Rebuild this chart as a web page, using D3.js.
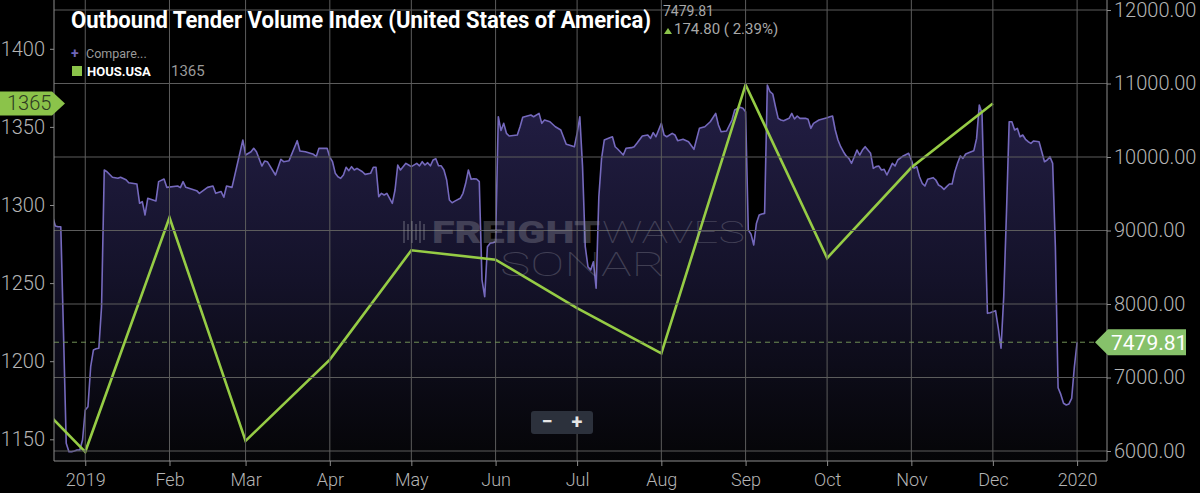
<!DOCTYPE html>
<html>
<head>
  <style>
  body { margin: 0; background: #000; }
  .axis .domain { stroke: #8c8c8c; }
  .axis line { stroke: #8c8c8c; }
  .axis text { fill: #b4b4b4; font-family: Roboto, sans-serif; font-weight: 300; }
  </style>
  <script src="https://d3js.org/d3.v7.min.js"></script>
</head>
<body>
<script>
  // HOUS.USA, monthly (left axis)
  var housMonths = ["2018-12-01", "2019-01-01", "2019-02-01", "2019-03-01", "2019-04-01", "2019-05-01", "2019-06-01",
                    "2019-07-01", "2019-08-01", "2019-09-01", "2019-10-01", "2019-11-01", "2019-12-01"];
  var housValues = [1197, 1142, 1292, 1149, 1201, 1271, 1265, 1234, 1205, 1377, 1266, 1324, 1365];

  // Outbound Tender Volume Index, days since 2019-01-01 (right axis)
  var tenderDay = [-12, -11, -10, -9, -8, -7, -6, -5, -4, -3, -2, -1, 0, 1, 2, 3, 4, 5, 6, 7, 8, 10, 12, 13, 15, 16, 19, 20,
    21, 22, 23, 26, 27, 29, 30, 34, 35, 36, 37, 41, 42, 45, 47, 48, 50, 51, 52, 54, 58, 59, 61, 62, 63, 65, 66, 67, 70,
    72, 73, 75, 78, 79, 81, 84, 85, 86, 89, 90, 91, 92, 93, 94, 95, 96, 97, 98, 99, 100, 102, 103, 105, 106, 107, 108,
    109, 110, 111, 112, 113, 114, 115, 116, 118, 119, 120, 122, 123, 124, 125, 126, 127, 128, 129, 130, 131, 132, 133,
    134, 135, 136, 138, 139, 140, 141, 142, 143, 144, 145, 146, 147, 148, 149, 150, 151, 152, 153, 154, 155, 156, 159,
    160, 161, 164, 165, 167, 168, 169, 171, 173, 175, 177, 178, 180, 181, 182, 183, 184, 185, 186, 187, 188, 189, 190,
    191, 193, 194, 195, 196, 198, 199, 201, 202, 203, 205, 207, 208, 209, 210, 212, 213, 214, 216, 217, 218, 220, 222,
    224, 226, 228, 230, 232, 233, 234, 236, 238, 239, 241, 242, 243, 244, 245, 246, 247, 248, 249, 250, 251, 252, 253,
    254, 255, 256, 257, 259, 260, 261, 262, 263, 265, 266, 267, 268, 270, 273, 274, 275, 276, 277, 278, 279, 280, 281,
    282, 283, 284, 285, 286, 287, 289, 290, 291, 292, 293, 294, 295, 297, 298, 299, 301, 303, 304, 305, 306, 307, 308,
    309, 310, 312, 313, 314, 315, 316, 317, 318, 319, 320, 321, 322, 323, 324, 326, 327, 328, 329, 330, 331, 332, 333,
    334, 335, 336, 337, 338, 339, 340, 341, 342, 343, 344, 345, 346, 347, 348, 349, 351, 352, 353, 354, 355, 356, 357,
    358, 359, 360, 361, 362, 363, 364, 365];
  var tenderValue = [9190, 9060, 9052, 9052, 7600, 6105, 5990, 5990, 6000, 6014, 6014, 6150, 6558, 6603, 7147, 7374, 7390,
    7397, 7963, 9823, 9800, 9724, 9710, 9724, 9690, 9650, 9633, 9370, 9392, 9211, 9438, 9401, 9665, 9700, 9587, 9605,
    9583, 9665, 9587, 9542, 9506, 9587, 9605, 9506, 9530, 9452, 9605, 9587, 10231, 10027, 10072, 10118, 10072, 9877,
    9945, 9936, 9755, 9968, 9936, 9950, 10222, 10081, 10072, 10036, 10004, 10118, 10118, 9997, 9936, 9780, 9732, 9710,
    9755, 9860, 9814, 9869, 9823, 9846, 9800, 9764, 9778, 9860, 9860, 9460, 9506, 9483, 9506, 9438, 9370, 9551, 9891,
    9823, 9914, 9891, 9869, 9914, 9880, 9936, 9891, 9923, 9880, 9959, 9977, 9880, 9880, 9823, 9687, 9415, 9378, 9400,
    9438, 9506, 9642, 9823, 9696, 9705, 9700, 9664, 8327, 8100, 8780, 8826, 8834, 8848, 10548, 10360, 10458, 10322,
    10286, 10299, 10412, 10540, 10571, 10548, 10594, 10458, 10503, 10480, 10412, 10367, 10173, 10163, 10140, 10322,
    10548, 9869, 8780, 8507, 8463, 8575, 8214, 9460, 9982, 10231, 10263, 10276, 10140, 10105, 10027, 10118, 10127,
    10140, 10186, 10286, 10299, 10254, 10331, 10276, 10458, 10299, 10276, 10322, 10300, 10222, 10241, 10208, 10105,
    10390, 10412, 10480, 10594, 10435, 10344, 10354, 10503, 10639, 10676, 10662, 10617, 9007, 8950, 8803, 9100, 9211,
    9225, 9233, 10979, 10888, 10857, 10684, 10526, 10503, 10494, 10526, 10594, 10517, 10558, 10526, 10526, 10512,
    10390, 10458, 10503, 10535, 10548, 10558, 10367, 10231, 10140, 10072, 10014, 9982, 9914, 10004, 10095, 10027,
    10095, 10140, 10050, 9846, 9869, 9877, 9823, 9832, 9755, 9914, 9877, 9959, 10014, 10050, 9959, 9846, 9869, 9732,
    9642, 9605, 9696, 9719, 9687, 9619, 9596, 9560, 9596, 9633, 9633, 9800, 9914, 10014, 9982, 10041, 10072, 10086,
    10250, 10707, 10594, 9233, 7873, 7882, 7895, 7909, 7669, 7400, 8100, 9233, 10480, 10480, 10367, 10390, 10276,
    10299, 10241, 10208, 10186, 10218, 10208, 10072, 9936, 9959, 10004, 9914, 8780, 6860, 6770, 6649, 6626, 6640,
    6717, 7150, 7479.81];

  var monthTicks = ["2019-01-01", "2019-02-01", "2019-03-01", "2019-04-01", "2019-05-01", "2019-06-01", "2019-07-01",
                    "2019-08-01", "2019-09-01", "2019-10-01", "2019-11-01", "2019-12-01", "2020-01-01"];
  var monthLabels = ["2019", "Feb", "Mar", "Apr", "May", "Jun", "Jul", "Aug", "Sep", "Oct", "Nov", "Dec", "2020"];
  var leftTicks = [1150, 1200, 1250, 1300, 1350, 1400];
  var rightTicks = [6000, 7000, 8000, 9000, 10000, 11000, 12000];

  var canvasWidth = 1200;
  var canvasHeight = 493;
  var plotLeft = 54, plotRight = 1107, plotTop = 0, plotBottom = 461;

  var parse = d3.timeParse("%Y-%m-%d");
  var jan1 = new Date(2019, 0, 1);

  var tender = tenderDay.map(function(d, i) { return {date: d3.timeDay.offset(jan1, d), value: tenderValue[i]}; });
  var hous = housMonths.map(function(d, i) { return {date: parse(d), value: housValues[i]}; });
  var lastTender = tender[tender.length - 1].value;
  var lastHous = hous[hous.length - 1].value;

  var svg = d3.select("body")
              .append("svg")
              .attr("width", canvasWidth)
              .attr("height", canvasHeight)
              .style("display", "block")
              .style("background", "#000");

  var x = d3.scaleTime()
      .domain([new Date(2018, 11, 20, 12), new Date(2020, 0, 12)])
      .range([plotLeft, plotRight]);

  var yLeft = d3.scaleLinear().domain([1150, 1400]).range([439.3, 48.8]);
  var yRight = d3.scaleLinear().domain([6000, 12000]).range([451, 10]);

  var defs = svg.append("defs");
  defs.append("clipPath").attr("id", "plot")
      .append("rect")
      .attr("x", plotLeft).attr("y", plotTop)
      .attr("width", plotRight - plotLeft).attr("height", plotBottom - plotTop);

  var grad = defs.append("linearGradient")
      .attr("id", "fillGrad")
      .attr("gradientUnits", "userSpaceOnUse")
      .attr("x1", 0).attr("y1", 60).attr("x2", 0).attr("y2", plotBottom);
  grad.append("stop").attr("offset", "0%").attr("stop-color", "#252049");
  grad.append("stop").attr("offset", "55%").attr("stop-color", "#141229");
  grad.append("stop").attr("offset", "100%").attr("stop-color", "#050507");

  var plot = svg.append("g").attr("clip-path", "url(#plot)");

  // area under the tender index
  var area = d3.area()
      .x(function(d) { return x(d.date); })
      .y0(plotBottom)
      .y1(function(d) { return yRight(d.value); });

  plot.append("path")
      .datum(tender)
      .attr("d", area)
      .attr("fill", "url(#fillGrad)");

  // grid
  svg.append("g")
      .selectAll("line")
      .data(rightTicks)
      .enter().append("line")
      .attr("x1", plotLeft).attr("x2", plotRight)
      .attr("y1", function(d) { return yRight(d); })
      .attr("y2", function(d) { return yRight(d); })
      .attr("stroke", "#5c5c5c")
      .attr("stroke-width", 1);

  svg.append("g")
      .selectAll("line")
      .data(monthTicks)
      .enter().append("line")
      .attr("x1", function(d) { return x(parse(d)); })
      .attr("x2", function(d) { return x(parse(d)); })
      .attr("y1", plotTop).attr("y2", plotBottom)
      .attr("stroke", "#5c5c5c")
      .attr("stroke-width", 1);

  // watermark
  var wm = svg.append("g").attr("fill", "#9a9aa6").attr("opacity", 0.32).attr("font-family", "Roboto, sans-serif");
  for (var b = 0; b < 6; b++) {
    wm.append("rect")
      .attr("x", 403 + b * 4).attr("y", 221 + (b % 2) * 3)
      .attr("width", 2).attr("height", 22 - (b % 2) * 6);
  }
  wm.append("text")
      .attr("x", 432).attr("y", 243)
      .attr("font-size", 32).attr("font-weight", 900)
      .attr("textLength", 168).attr("lengthAdjust", "spacingAndGlyphs")
      .text("FREIGHT");
  wm.append("text")
      .attr("x", 602).attr("y", 243)
      .attr("font-size", 32).attr("font-weight", 100)
      .attr("textLength", 143).attr("lengthAdjust", "spacingAndGlyphs")
      .text("WAVES");
  wm.append("text")
      .attr("x", 500).attr("y", 276)
      .attr("font-size", 33).attr("font-weight", 100)
      .attr("textLength", 165).attr("lengthAdjust", "spacingAndGlyphs")
      .text("SONAR");

  // tender index line
  var tenderLine = d3.line()
      .x(function(d) { return x(d.date); })
      .y(function(d) { return yRight(d.value); });

  plot.append("path")
      .datum(tender)
      .attr("d", tenderLine)
      .attr("fill", "none")
      .attr("stroke", "#7569bd")
      .attr("stroke-width", 1.6)
      .attr("stroke-linejoin", "round");

  // last value dashed line
  svg.append("line")
      .attr("x1", plotLeft).attr("x2", 1095)
      .attr("y1", yRight(lastTender)).attr("y2", yRight(lastTender))
      .attr("stroke", "#6f8f55")
      .attr("stroke-width", 1)
      .attr("stroke-dasharray", "5,4");

  // HOUS.USA line
  var housLine = d3.line()
      .x(function(d) { return x(d.date); })
      .y(function(d) { return yLeft(d.value); });

  plot.append("path")
      .datum(hous)
      .attr("d", housLine)
      .attr("fill", "none")
      .attr("stroke", "#96cc45")
      .attr("stroke-width", 2.6)
      .attr("stroke-linejoin", "miter");

  // axes
  svg.append("g")
      .attr("class", "axis")
      .attr("transform", "translate(" + plotLeft + ",0)")
      .call(d3.axisLeft(yLeft).tickValues(leftTicks).tickFormat(d3.format("d")).tickSize(4).tickPadding(5).tickSizeOuter(0))
      .call(function(g) { g.select(".domain").attr("d", "M0," + plotTop + "V" + plotBottom); })
      .selectAll("text").attr("font-size", 20);

  svg.append("g")
      .attr("class", "axis")
      .attr("transform", "translate(" + plotRight + ",0)")
      .call(d3.axisRight(yRight).tickValues(rightTicks).tickFormat(d3.format(".2f")).tickSize(4).tickPadding(3))
      .call(function(g) { g.select(".domain").attr("d", "M0," + plotTop + "V" + plotBottom); })
      .selectAll("text").attr("font-size", 20);

  svg.append("g")
      .attr("class", "axis")
      .attr("transform", "translate(0," + plotBottom + ")")
      .call(d3.axisBottom(x).tickValues(monthTicks.map(parse))
              .tickFormat(function(d, i) { return monthLabels[i]; })
              .tickSize(5).tickPadding(7))
      .call(function(g) { g.select(".domain").attr("d", "M" + plotLeft + ",0H" + plotRight); })
      .selectAll("text").attr("font-size", 18);

  // last value tags
  var yl = yLeft(lastHous);
  svg.append("path")
      .attr("d", "M0," + (yl - 12) + "H52L65," + yl + "L52," + (yl + 12) + "H0Z")
      .attr("fill", "#8bc34a");
  svg.append("text")
      .attr("x", 7).attr("y", yl).attr("dy", "0.35em")
      .attr("font-family", "Roboto, sans-serif").attr("font-size", 20).attr("font-weight", 300)
      .attr("fill", "#2e3a22")
      .text(lastHous);

  var yr = yRight(lastTender);
  svg.append("path")
      .attr("d", "M1095," + yr + "L1108," + (yr - 13) + "H1186V" + (yr + 13) + "H1108Z")
      .attr("fill", "#86c16a");
  svg.append("text")
      .attr("x", 1111).attr("y", yr).attr("dy", "0.35em")
      .attr("font-family", "Roboto, sans-serif").attr("font-size", 21)
      .attr("fill", "#ffffff")
      .text(d3.format(".2f")(lastTender));

  // title and header
  svg.append("text")
      .attr("x", 71).attr("y", 28)
      .attr("font-family", "Roboto, sans-serif").attr("font-size", 24).attr("font-weight", 700)
      .attr("fill", "#ffffff")
      .attr("textLength", 580).attr("lengthAdjust", "spacingAndGlyphs")
      .text("Outbound Tender Volume Index (United States of America)");

  svg.append("text")
      .attr("x", 663).attr("y", 16)
      .attr("font-family", "Roboto, sans-serif").attr("font-size", 14)
      .attr("fill", "#a8a8a8")
      .text(d3.format(".2f")(lastTender));

  svg.append("path")
      .attr("d", "M664,34 L668,28 L672,34 Z")
      .attr("fill", "#8bc34a");
  svg.append("text")
      .attr("x", 674).attr("y", 34)
      .attr("font-family", "Roboto, sans-serif").attr("font-size", 15)
      .attr("fill", "#a8a8a8")
      .text("174.80 ( 2.39%)");

  // legend
  svg.append("text")
      .attr("x", 71).attr("y", 58)
      .attr("font-family", "Roboto, sans-serif").attr("font-size", 14).attr("font-weight", 700)
      .attr("fill", "#6e64b8")
      .text("+");
  svg.append("text")
      .attr("x", 86).attr("y", 58)
      .attr("font-family", "Roboto, sans-serif").attr("font-size", 12.5)
      .attr("fill", "#9a9a9a")
      .text("Compare...");
  svg.append("rect")
      .attr("x", 72).attr("y", 66).attr("width", 10).attr("height", 10)
      .attr("fill", "#8bc34a");
  svg.append("text")
      .attr("x", 87).attr("y", 76)
      .attr("font-family", "Roboto, sans-serif").attr("font-size", 13).attr("font-weight", 700)
      .attr("fill", "#ffffff")
      .text("HOUS.USA");
  svg.append("text")
      .attr("x", 171).attr("y", 76)
      .attr("font-family", "Roboto, sans-serif").attr("font-size", 15)
      .attr("fill", "#9a9a9a")
      .text(lastHous);

  // zoom buttons
  svg.append("rect")
      .attr("x", 531).attr("y", 411).attr("width", 62).attr("height", 23).attr("rx", 3)
      .attr("fill", "#2c313c");
  svg.append("text")
      .attr("x", 547).attr("y", 428).attr("text-anchor", "middle")
      .attr("font-family", "Roboto, sans-serif").attr("font-size", 20).attr("font-weight", 700)
      .attr("fill", "#e6e6e6")
      .text("\u2212");
  svg.append("text")
      .attr("x", 577).attr("y", 429).attr("text-anchor", "middle")
      .attr("font-family", "Roboto, sans-serif").attr("font-size", 20).attr("font-weight", 700)
      .attr("fill", "#e6e6e6")
      .text("+");
</script>
</body>
</html>
